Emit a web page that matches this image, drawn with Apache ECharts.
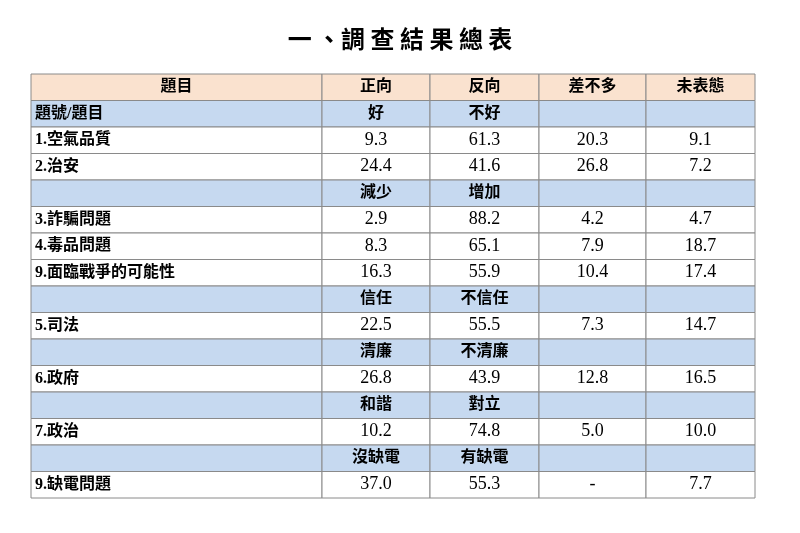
<!DOCTYPE html>
<html>
<head>
<meta charset="utf-8">
<script src="https://cdn.jsdelivr.net/npm/echarts@6/dist/echarts.min.js"></script>
<style>html,body{margin:0;padding:0;background:#fff}#main{width:800px;height:533px}</style>
</head>
<body>
<div id="main"></div>
<script>
const columns = ['題目', '正向', '反向', '差不多', '未表態']
const colEdges = [31, 322, 430, 539, 646, 755]
const rowLabels = ['題號/題目', '1.空氣品質', '2.治安', '', '3.詐騙問題', '4.毒品問題', '9.面臨戰爭的可能性', '', '5.司法', '', '6.政府', '', '7.政治', '', '9.缺電問題']
const posVals = ['好', '9.3', '24.4', '減少', '2.9', '8.3', '16.3', '信任', '22.5', '清廉', '26.8', '和諧', '10.2', '沒缺電', '37.0']
const negVals = ['不好', '61.3', '41.6', '增加', '88.2', '65.1', '55.9', '不信任', '55.5', '不清廉', '43.9', '對立', '74.8', '有缺電', '55.3']
const sameVals = ['', '20.3', '26.8', '', '4.2', '7.9', '10.4', '', '7.3', '', '12.8', '', '5.0', '', '-']
const naVals = ['', '9.1', '7.2', '', '4.7', '18.7', '17.4', '', '14.7', '', '16.5', '', '10.0', '', '7.7']
const blueRows = [0, 3, 7, 9, 11, 13]

const rowNames = ['header'].concat(rowLabels.map((r, i) => 'r' + i))
let cells = []
columns.forEach((c, ci) => cells.push([ci, 0, c, 'head']))
rowLabels.forEach((lab, i) => {
  let kind = blueRows.indexOf(i) >= 0 ? 'blue' : 'white'
  let vals = [lab, posVals[i], negVals[i], sameVals[i], naVals[i]]
  vals.forEach((v, ci) => cells.push([ci, i + 1, v, kind]))
})

const fills = {head: '#fae2cf', blue: '#c6d9f0', white: '#ffffff'}
const cjk = '"Liberation Serif", "Noto Sans CJK TC", serif'

let myChart = echarts.init(document.getElementById('main'))
myChart.setOption({
  animation: false,
  title: {
    text: '一 、調 查 結 果 總 表', left: 'center', top: 22,
    textStyle: {fontSize: 24, fontWeight: 'bold', color: '#000', fontFamily: '"Noto Sans CJK TC"'}
  },
  grid: {left: 31, right: 45, top: 74, bottom: 35},
  xAxis: {type: 'value', min: colEdges[0], max: colEdges[5], show: false},
  yAxis: {type: 'category', data: rowNames, inverse: true, show: false},
  series: [{
    type: 'custom',
    data: cells,
    renderItem: function (params, api) {
      let ci = api.value(0), ri = api.value(1)
      let cell = cells[params.dataIndex]
      let h = api.size([0, 1])[1]
      let p0 = api.coord([colEdges[ci], ri])
      let p1 = api.coord([colEdges[ci + 1], ri])
      let x = p0[0], y = p0[1] - h / 2, w = p1[0] - p0[0]
      let left = ci === 0 && cell[3] !== 'head'
      let numeric = /^[\d.\-]+$/.test(cell[2])
      return {
        type: 'group',
        children: [
          {type: 'rect', shape: {x: x, y: y, width: w, height: h},
            style: {fill: fills[cell[3]], stroke: '#8a8a8a', lineWidth: 1}},
          {type: 'text', x: left ? x + 4 : x + w / 2, y: y + h / 2,
            style: {text: cell[2], align: left ? 'left' : 'center', verticalAlign: 'middle',
              fontSize: numeric ? 18 : 16, fontWeight: numeric ? 'normal' : 'bold',
              fill: '#000', fontFamily: cjk}}
        ]
      }
    }
  }]
})
</script>
</body>
</html>
